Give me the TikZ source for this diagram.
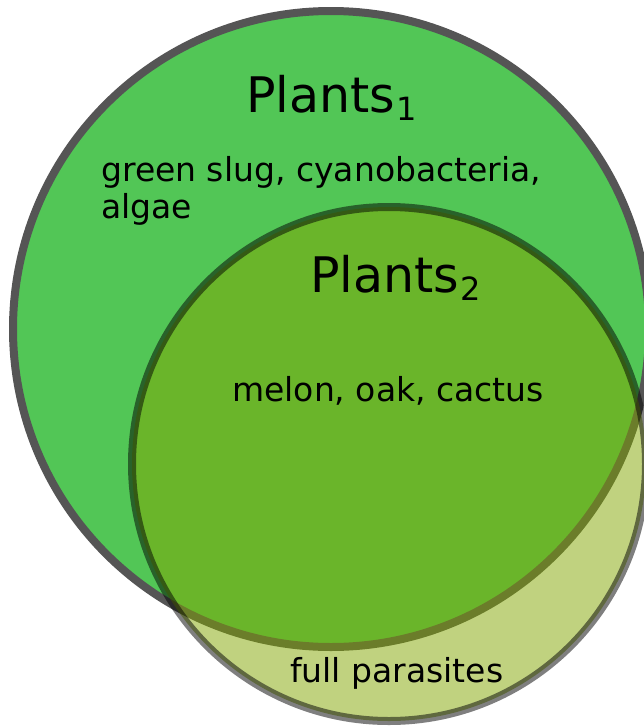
\documentclass[tikz,border=0pt]{standalone}
\usepackage{fontspec}
\setmainfont{DejaVu Sans}
\definecolor{biggreen}{RGB}{82,198,86}
\definecolor{smallfill}{RGB}{130,166,0}
\definecolor{bigstroke}{RGB}{85,85,85}
\tikzset{
  title/.style={anchor=base west, inner sep=0pt, font=\fontsize{49}{49}\selectfont},
  label/.style={anchor=base west, inner sep=0pt, font=\fontsize{33}{37}\selectfont, align=left},
}
\newcommand{\subidx}[1]{\kern1.5pt\raisebox{-8pt}{\fontsize{32}{32}\selectfont #1}}
\begin{document}
\begin{tikzpicture}[x=1pt,y=-1pt]
\useasboundingbox (0,0) rectangle (644,726);
\clip (0,0) rectangle (644,726);
\draw[line width=8pt, draw=bigstroke, fill=biggreen] (331,329) circle[radius=318];
\draw[line width=8pt, draw=black, draw opacity=0.5, fill=smallfill, fill opacity=0.5] (389,464) circle[radius=257];
\node[title] (p1) at (246,112) {Plants\subidx{1}};
\node[label] (g1) at (101,181) {green slug, cyanobacteria,};
\node[label] (g2) at (101,218) {algae};
\node[title] (p2) at (310,292) {Plants\subidx{2}};
\node[label] (m) at (232,401) {melon, oak, cactus};
\node[label] (f) at (290,682) {full parasites};
\end{tikzpicture}
\end{document}
